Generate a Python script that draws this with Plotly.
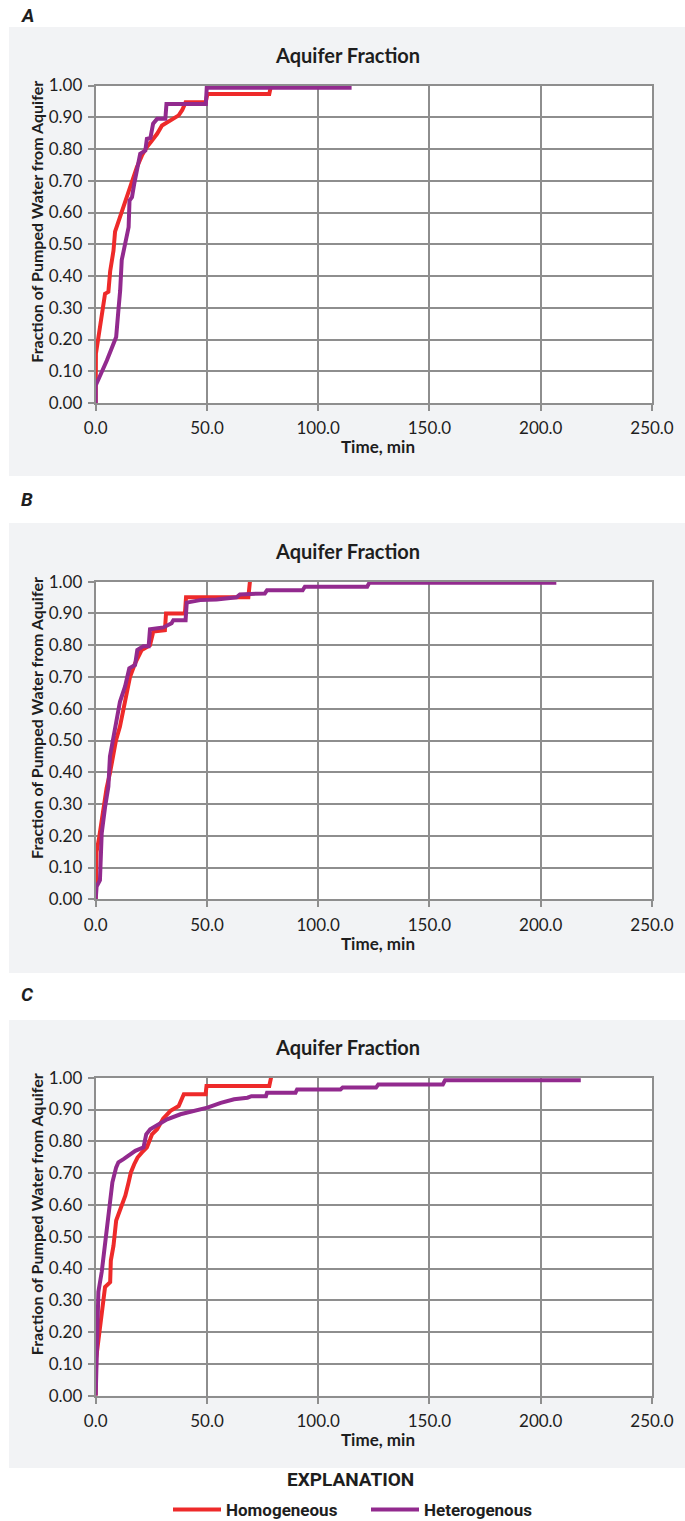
import plotly.graph_objects as go

# ---------------- data ----------------
# Panel A
a_hom_t = [0, 0.1, 4.2, 5.7, 6.5, 8.0, 8.7, 10.2, 11.8, 13.3, 14.8, 16.3, 18.5, 20.8, 23.0, 25.3, 27.6, 29.8, 33.6, 37.3, 38.9, 40.4, 49.4, 50.2, 78.0, 78.8]
a_hom_f = [0, 0.155, 0.344, 0.35, 0.415, 0.48, 0.54, 0.57, 0.607, 0.633, 0.67, 0.70, 0.743, 0.78, 0.806, 0.827, 0.848, 0.874, 0.89, 0.906, 0.923, 0.947, 0.947, 0.973, 0.973, 1.0]
a_het_t = [0, 0, 5.0, 9.2, 10.2, 11.0, 11.7, 13.3, 14.8, 15.2, 16.3, 17.3, 18.5, 20.0, 22.3, 23.0, 24.6, 25.8, 27.6, 31.3, 31.8, 49.5, 49.9, 115.0]
a_het_f = [0, 0.055, 0.134, 0.208, 0.292, 0.355, 0.45, 0.50, 0.554, 0.638, 0.648, 0.69, 0.733, 0.785, 0.795, 0.832, 0.835, 0.88, 0.895, 0.895, 0.942, 0.942, 0.993, 0.993]

# Panel B
b_hom_t = [0, 0.4, 1.6, 2.7, 3.4, 4.9, 6.4, 7.9, 9.1, 10.9, 12.4, 13.9, 15.4, 17.7, 20.7, 24.4, 25.9, 31.1, 31.6, 40.1, 40.6, 68.6, 69.3]
b_hom_f = [0.0, 0.15, 0.197, 0.25, 0.297, 0.35, 0.397, 0.45, 0.50, 0.544, 0.596, 0.648, 0.70, 0.743, 0.785, 0.80, 0.843, 0.847, 0.90, 0.90, 0.951, 0.951, 1.0]
b_het_t = [0, 0.4, 1.9, 2.7, 4.2, 5.7, 6.4, 7.9, 9.1, 10.9, 13.2, 15.1, 17.7, 18.7, 21.4, 23.8, 24.4, 30.4, 34.1, 34.9, 40.4, 40.9, 46.9, 54.3, 63.3, 64.8, 76.0, 77.0, 93.0, 94.0, 122.0, 123.0, 207.0]
b_het_f = [0.0, 0.04, 0.06, 0.208, 0.29, 0.355, 0.45, 0.512, 0.565, 0.622, 0.67, 0.727, 0.738, 0.785, 0.797, 0.797, 0.85, 0.856, 0.869, 0.879, 0.879, 0.934, 0.942, 0.944, 0.951, 0.96, 0.963, 0.973, 0.973, 0.984, 0.984, 0.997, 0.997]

# Panel C
c_hom_t = [0, 0.2, 4.2, 6.5, 6.8, 8.0, 9.2, 10.7, 11.7, 13.3, 14.8, 15.8, 17.3, 18.8, 20.8, 23.0, 24.5, 25.3, 27.6, 30.3, 33.6, 37.3, 39.6, 49.4, 49.8, 78.0, 78.8]
c_hom_f = [0, 0.117, 0.342, 0.357, 0.425, 0.472, 0.551, 0.582, 0.603, 0.629, 0.671, 0.702, 0.728, 0.749, 0.765, 0.781, 0.807, 0.822, 0.838, 0.871, 0.896, 0.911, 0.948, 0.948, 0.974, 0.974, 1.0]
c_het_t = [0, 0.45, 1.2, 2.7, 4.2, 5.3, 6.2, 7.5, 9.2, 10.2, 12.5, 15.5, 17.8, 21.5, 22.7, 24.5, 27.6, 32.1, 38.1, 44.1, 50.2, 56.2, 62.2, 68.2, 70.0, 76.5, 77.0, 89.8, 90.5, 110.0, 111.0, 126.0, 127.0, 156.0, 157.0, 218.0]
c_het_f = [0, 0.127, 0.326, 0.389, 0.483, 0.545, 0.614, 0.671, 0.718, 0.734, 0.744, 0.760, 0.770, 0.781, 0.822, 0.838, 0.851, 0.869, 0.885, 0.896, 0.906, 0.921, 0.932, 0.937, 0.942, 0.942, 0.953, 0.953, 0.963, 0.963, 0.969, 0.969, 0.979, 0.979, 0.992, 0.992]

panel_letters = ["A", "B", "C"]
series_names = ["Homogeneous", "Heterogenous"]
chart_title = "Aquifer Fraction"
x_title = "Time, min"
y_title = "Fraction of Pumped Water from Aquifer"
x_ticks = [0, 50, 100, 150, 200, 250]
y_ticks = [0.0, 0.1, 0.2, 0.3, 0.4, 0.5, 0.6, 0.7, 0.8, 0.9, 1.0]

# ---------------- layout geometry (pixels) ----------------
W, H = 685, 1521
RED = "#ee2a2a"
PURPLE = "#922a8e"
GRID = "#8e8e8e"
BOXBG = "#f2f3f5"
TXT = "#1e1e1e"
BODY = "Lato, 'Open Sans', sans-serif"
COND = "Roboto, 'Liberation Sans', sans-serif"

PX_L, PX_R = 95.7, 652.0
panels = [
    dict(letter_y=15, box=(27, 476), plot=(85.5, 403.0)),
    dict(letter_y=500, box=(523, 973), plot=(581.7, 899.3)),
    dict(letter_y=994, box=(1020, 1468), plot=(1077.7, 1395.7)),
]


def fx(px):
    return px / W


def fy(py):
    return 1 - py / H


data = [
    (a_hom_t, a_hom_f, a_het_t, a_het_f),
    (b_hom_t, b_hom_f, b_het_t, b_het_f),
    (c_hom_t, c_hom_f, c_het_t, c_het_f),
]

fig = go.Figure()
shapes = []
annotations = []
layout_axes = {}

for i, (p, (ht, hf, et, ef)) in enumerate(zip(panels, data)):
    n = "" if i == 0 else str(i + 1)
    xa, ya = "x" + n, "y" + n
    fig.add_trace(go.Scatter(x=ht, y=hf, mode="lines", name=series_names[0],
                             line=dict(color=RED, width=4), xaxis=xa, yaxis=ya,
                             showlegend=(i == 0), legendrank=1))
    fig.add_trace(go.Scatter(x=et, y=ef, mode="lines", name=series_names[1],
                             line=dict(color=PURPLE, width=4), xaxis=xa, yaxis=ya,
                             showlegend=(i == 0), legendrank=2))
    top, bot = p["plot"]
    common = dict(showline=True, mirror=True, linecolor=GRID, linewidth=2,
                  showgrid=True, gridcolor=GRID, gridwidth=2, zeroline=False,
                  ticks="outside", ticklen=6, tickwidth=2, tickcolor=GRID, automargin=False,
                  tickfont=dict(family=BODY, size=17, color=TXT))
    layout_axes["xaxis" + n] = dict(common, domain=[fx(PX_L), fx(PX_R)], range=[0, 250],
                                    tickvals=x_ticks, tickformat=".1f", anchor=ya,
                                    ticklabelstandoff=3)
    layout_axes["yaxis" + n] = dict(common, domain=[fy(bot), fy(top)], range=[0, 1],
                                    tickvals=y_ticks, tickformat=".2f", anchor=xa,
                                    ticklabelstandoff=2)
    b0, b1 = p["box"]
    shapes.append(dict(type="rect", xref="paper", yref="paper", x0=fx(9), x1=fx(W + 2),
                       y0=fy(b1), y1=fy(b0), fillcolor=BOXBG, line=dict(width=0), layer="below"))
    shapes.append(dict(type="rect", xref="paper", yref="paper", x0=fx(PX_L), x1=fx(PX_R),
                       y0=fy(bot), y1=fy(top), fillcolor="white", line=dict(width=0), layer="below"))
    annotations.append(dict(text="<b><i>%s</i></b>" % panel_letters[i], x=fx(27), y=fy(p["letter_y"]),
                            xref="paper", yref="paper", showarrow=False, xanchor="center", yanchor="middle",
                            font=dict(family=COND, size=19, color=TXT)))
    annotations.append(dict(text="<b>%s</b>" % chart_title, x=fx(347), y=fy(top - 31),
                            xref="paper", yref="paper", showarrow=False, xanchor="center", yanchor="middle",
                            font=dict(family=BODY, size=20, color=TXT)))
    annotations.append(dict(text="<b>%s</b>" % x_title, x=fx(378), y=fy(bot + 44),
                            xref="paper", yref="paper", showarrow=False, xanchor="center", yanchor="middle",
                            font=dict(family=BODY, size=17, color=TXT)))
    annotations.append(dict(text="<b>%s</b>" % y_title, x=fx(36.5), y=fy((top + bot) / 2 - 22),
                            xref="paper", yref="paper", showarrow=False, xanchor="center", yanchor="middle",
                            textangle=-90, font=dict(family=BODY, size=16, color=TXT)))

annotations.append(dict(text="<b>EXPLANATION</b>", x=fx(350), y=fy(1479), xref="paper", yref="paper",
                        showarrow=False, xanchor="center", yanchor="middle",
                        font=dict(family=COND, size=19, color=TXT)))

fig.update_layout(
    width=W, height=H, margin=dict(l=0, r=0, t=0, b=0, pad=0, autoexpand=False), autosize=False,
    paper_bgcolor="white", plot_bgcolor="rgba(0,0,0,0)",
    shapes=shapes, annotations=annotations,
    showlegend=True,
    legend=dict(orientation="h", x=fx(366), xanchor="center", y=fy(1510), yanchor="middle",
                font=dict(family=COND, size=17, color=TXT, weight="bold"),
                itemwidth=48, entrywidth=135, entrywidthmode="pixels",
                bgcolor="rgba(0,0,0,0)", traceorder="normal"),
    **layout_axes,
)

fig.write_html(
    "out.html",
    config={"responsive": False, "displayModeBar": False},
    post_script=(
        "document.body.style.margin='0';document.body.style.padding='0';"
    ),
)
